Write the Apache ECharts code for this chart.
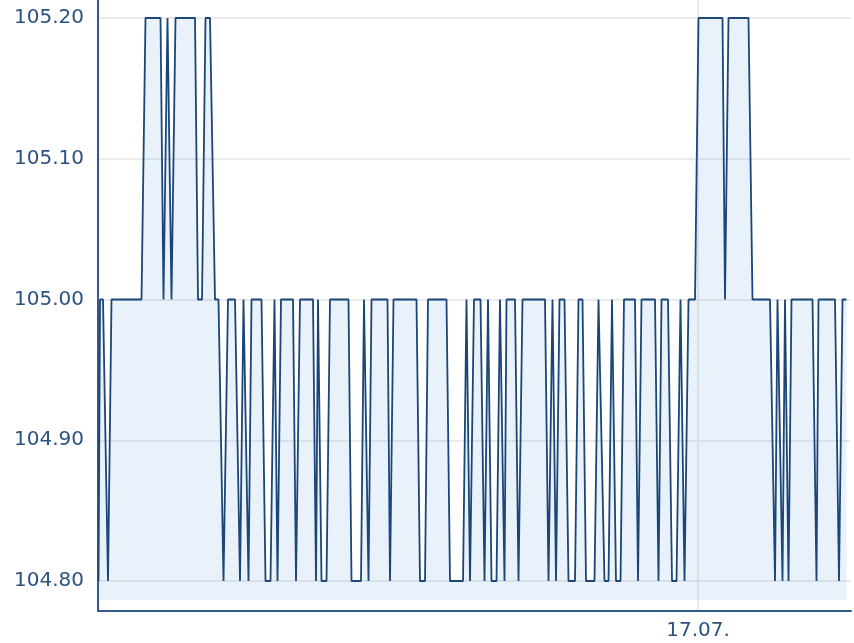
<!DOCTYPE html>
<html>
<head>
<meta charset="utf-8">
<script src="https://cdn.jsdelivr.net/npm/echarts@6/dist/echarts.min.js"></script>
<style>
html,body{margin:0;padding:0;background:#fff;}
#chart{width:854px;height:643px;}
</style>
</head>
<body>
<div id="chart"></div>
<script>
// time of each price change, in minutes counted from 16.07. 00:00
var minutes = [241,244,250,260,267,327,335,365,371,379,387,395,434,440,448,455,464,474,481,491,
  500,514,524,531,541,547,567,575,585,593,599,606,630,636,644,670,676,680,687,697,
  704,741,747,766,772,781,787,819,824,831,877,884,894,900,937,944,970,977,984,992,
  1005,1013,1020,1027,1037,1044,1053,1057,1074,1081,1089,1134,1141,1149,1156,1163,1173,1181,1194,1201,
  1209,1216,1233,1241,1253,1261,1268,1276,1285,1292,1314,1320,1327,1354,1361,1367,1380,1388,1397,1405,
  1413,1421,1434,1441,1489,1494,1501,1541,1549,1584,1594,1599,1609,1614,1621,1627,1669,1677,1681,1714,
  1722,1729,1737];
var prices = [104.8,105.0,105.0,104.8,105.0,105.0,105.2,105.2,105.0,105.2,105.0,105.2,105.2,105.0,105.0,105.2,105.2,105.0,105.0,104.8,
  105.0,105.0,104.8,105.0,104.8,105.0,105.0,104.8,104.8,105.0,104.8,105.0,105.0,104.8,105.0,105.0,104.8,105.0,104.8,104.8,
  105.0,105.0,104.8,104.8,105.0,104.8,105.0,105.0,104.8,105.0,105.0,104.8,104.8,105.0,105.0,104.8,104.8,105.0,104.8,105.0,
  105.0,104.8,105.0,104.8,104.8,105.0,104.8,105.0,105.0,104.8,105.0,105.0,104.8,105.0,104.8,105.0,105.0,104.8,104.8,105.0,
  105.0,104.8,104.8,105.0,104.8,104.8,105.0,104.8,104.8,105.0,105.0,104.8,105.0,105.0,104.8,105.0,105.0,104.8,104.8,105.0,
  104.8,105.0,105.0,105.2,105.2,105.0,105.2,105.2,105.0,105.0,104.8,105.0,104.8,105.0,104.8,105.0,105.0,104.8,105.0,105.0,
  104.8,105.0,105.0];
var yTicks = [104.80, 104.90, 105.00, 105.10, 105.20];
var dayLabelMinute = 1440;
var dayLabel = '17.07.';

var seriesData = minutes.map(function (t, i) { return [t, prices[i]]; });

var chart = echarts.init(document.getElementById('chart'), null, {renderer: 'canvas'});
var labelColor = '#2c5280';
var axisColor = '#33598a';
var gridColor = '#e4e4e4';
chart.setOption({
  animation: false,
  backgroundColor: '#ffffff',
  grid: {left: 98, right: 3, top: 0, bottom: 32, containLabel: false},
  xAxis: {
    type: 'value',
    min: 240,
    max: 1746,
    interval: 1200,
    axisLine: {show: true, lineStyle: {color: axisColor, width: 2}},
    axisTick: {show: false},
    axisLabel: {
      showMinLabel: false,
      showMaxLabel: false,
      margin: 10,
      color: labelColor,
      fontFamily: 'DejaVu Sans',
      fontSize: 20,
      formatter: function (v) { return v === dayLabelMinute ? dayLabel : ''; }
    },
    splitLine: {show: true, showMinLine: false, showMaxLine: false, lineStyle: {color: gridColor, width: 1.5}}
  },
  yAxis: {
    type: 'value',
    min: 104.7787,
    max: 105.2128,
    axisLine: {show: true, lineStyle: {color: axisColor, width: 2}},
    axisTick: {show: false},
    axisLabel: {
      margin: 14,
      color: labelColor,
      fontFamily: 'DejaVu Sans',
      fontSize: 20,
      formatter: function (v) {
        for (var i = 0; i < yTicks.length; i++) {
          if (Math.abs(v - yTicks[i]) < 1e-6) return yTicks[i].toFixed(2);
        }
        return '';
      }
    },
    splitLine: {show: true, showMinLine: false, showMaxLine: false, lineStyle: {color: gridColor, width: 1.5}}
  },
  series: [{
    type: 'line',
    data: seriesData,
    showSymbol: false,
    symbol: 'none',
    lineStyle: {color: '#1b4677', width: 1.8},
    areaStyle: {color: 'rgba(100,160,225,0.2)', origin: 104.7865},
    z: 3
  }]
});
</script>
</body>
</html>
